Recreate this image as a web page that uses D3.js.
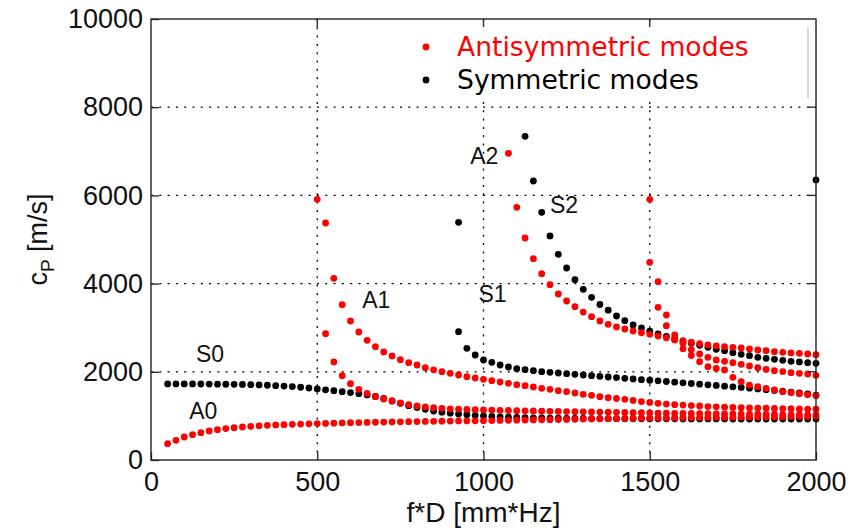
<!DOCTYPE html>
<html><head><meta charset="utf-8">
<script src="https://cdn.jsdelivr.net/npm/d3@7"></script>
<style>body{margin:0;background:#fff}svg{display:block}</style>
</head><body><svg id="chart" width="859" height="530"></svg>
<script>
// Axis ticks
const xTicks = [0, 500, 1000, 1500, 2000];
const yTicks = [0, 2000, 4000, 6000, 8000, 10000];

// Antisymmetric modes: [f*D (mm*Hz), phase velocity (m/s)]
const modeA0 = [[50,370],[75,447],[100,522],[125,574],[150,620],[175,658],[200,688],[225,712],[250,733],[275,748],[300,763],[325,776],[350,786],[375,794],[400,802],[425,809],[450,815],[475,820],[500,825],[525,830],[550,835],[575,840],[600,845],[625,849],[650,853],[675,856],[700,860],[725,863],[750,866],[775,869],[800,872],[825,875],[850,878],[875,880],[900,883],[925,885],[950,887],[975,889],[1000,891],[1025,894],[1050,897],[1075,900],[1100,903],[1125,906],[1150,909],[1175,912],[1200,915],[1225,918],[1250,921],[1275,924],[1300,927],[1325,930],[1350,933],[1375,936],[1400,939],[1425,942],[1450,945],[1475,948],[1500,951],[1525,953],[1550,955],[1575,957],[1600,959],[1625,961],[1650,963],[1675,965],[1700,967],[1725,969],[1750,971],[1775,973],[1800,975],[1825,977],[1850,979],[1875,981],[1900,983],[1925,985],[1950,987],[1975,989],[2000,991]];
const modeA1 = [[500,5912],[525,5374],[550,4120],[575,3522],[600,3152],[625,2902],[650,2714],[675,2570],[700,2449],[725,2358],[750,2274],[775,2206],[800,2154],[825,2093],[850,2045],[875,2002],[900,1966],[925,1927],[950,1889],[975,1859],[1000,1830],[1025,1798],[1050,1769],[1075,1739],[1100,1708],[1125,1685],[1150,1655],[1175,1625],[1200,1603],[1225,1572],[1250,1549],[1275,1519],[1300,1489],[1325,1466],[1350,1436],[1375,1413],[1400,1395],[1425,1375],[1450,1350],[1475,1325],[1500,1305],[1525,1285],[1550,1268],[1575,1255],[1600,1245],[1625,1235],[1650,1225],[1675,1212],[1700,1205],[1725,1198],[1750,1192],[1775,1187],[1800,1182],[1825,1178],[1850,1174],[1875,1170],[1900,1166],[1925,1162],[1950,1158],[1975,1155],[2000,1152]];
const modeA1b = [[525,2864],[550,2222],[575,1912],[600,1730],[625,1603],[650,1512],[675,1436],[700,1383],[725,1338],[750,1293],[775,1255],[800,1225],[825,1205],[850,1186],[875,1171],[900,1160],[925,1152],[950,1146],[975,1140],[1000,1135],[1025,1131],[1050,1127],[1075,1123],[1100,1119],[1125,1115],[1150,1111],[1175,1107],[1200,1104],[1225,1101],[1250,1098],[1275,1095],[1300,1092],[1325,1089],[1350,1086],[1375,1083],[1400,1080],[1425,1077],[1450,1074],[1475,1071],[1500,1068],[1525,1065],[1550,1062],[1575,1059],[1600,1056],[1625,1054],[1650,1052],[1675,1050],[1700,1048],[1725,1046],[1750,1044],[1775,1042],[1800,1040],[1825,1038],[1850,1036],[1875,1034],[1900,1032],[1925,1030],[1950,1028],[1975,1026],[2000,1024]];
const modeA2 = [[1075,6955],[1100,5730],[1125,5034],[1150,4565],[1175,4225],[1200,3975],[1225,3764],[1250,3605],[1275,3476],[1300,3355],[1325,3250],[1350,3152],[1375,3076],[1400,3016],[1425,2971],[1450,2925],[1475,2885],[1500,2850],[1525,2810],[1550,2772],[1575,2735],[1600,2700],[1625,2670],[1650,2640],[1675,2610],[1700,2585],[1725,2570],[1750,2555],[1775,2540],[1800,2517],[1825,2494],[1850,2479],[1875,2457],[1900,2442],[1925,2427],[1950,2419],[1975,2404],[2000,2389]];
const modeA3 = [[1500,5912],[1525,4043],[1550,3288],[1575,2835],[1600,2646],[1625,2500],[1650,2404],[1675,2328],[1700,2268],[1725,2238],[1750,2208],[1775,2170],[1800,2132],[1825,2094],[1850,2057],[1875,2026],[1900,2004],[1925,1981],[1950,1966],[1975,1950],[2000,1920]];
const modeA3b = [[1500,4483],[1525,3462],[1550,3045],[1575,2721],[1600,2520],[1625,2370],[1650,2230],[1675,2116],[1700,2075],[1725,2041],[1750,1875],[1775,1776],[1800,1700],[1825,1662],[1850,1625],[1875,1587],[1900,1549],[1925,1526],[1950,1503],[1975,1481],[2000,1458]];

// Symmetric modes
const modeS0 = [[50,1725],[75,1725],[100,1725],[125,1724],[150,1723],[175,1722],[200,1720],[225,1718],[250,1716],[275,1713],[300,1708],[325,1702],[350,1695],[375,1686],[400,1676],[425,1664],[450,1650],[475,1633],[500,1612],[525,1592],[550,1572],[575,1550],[600,1528],[625,1503],[650,1475],[675,1440],[700,1395],[725,1340],[750,1285],[775,1232],[800,1190],[825,1149],[850,1111],[875,1085],[900,1062],[925,1043],[950,1027],[975,1012],[1000,998],[1025,988],[1050,980],[1075,972],[1100,966],[1125,960],[1150,956],[1175,952],[1200,949],[1225,947],[1250,945],[1275,943],[1300,941],[1325,940],[1350,939],[1375,938],[1400,937],[1425,936],[1450,935],[1475,935],[1500,934],[1525,934],[1550,933],[1575,933],[1600,932],[1625,932],[1650,932],[1675,931],[1700,931],[1725,931],[1750,930],[1775,930],[1800,930],[1825,930],[1850,930],[1875,929],[1900,929],[1925,929],[1950,929],[1975,929],[2000,929]];
const modeS1 = [[925,2910],[950,2532],[975,2381],[1000,2268],[1025,2215],[1050,2154],[1075,2109],[1100,2071],[1125,2048],[1150,2025],[1175,2002],[1200,1988],[1225,1973],[1250,1957],[1275,1943],[1300,1927],[1325,1912],[1350,1897],[1375,1882],[1400,1868],[1425,1852],[1450,1838],[1475,1822],[1500,1808],[1525,1795],[1550,1780],[1575,1765],[1600,1750],[1625,1735],[1650,1720],[1675,1705],[1700,1690],[1725,1675],[1750,1660],[1775,1645],[1800,1628],[1825,1612],[1850,1595],[1875,1578],[1900,1560],[1925,1540],[1950,1520],[1975,1500],[2000,1470]];
const modeS2 = [[1125,7340],[1150,6327],[1175,5617],[1200,5080],[1225,4664],[1250,4354],[1275,4089],[1300,3870],[1325,3689],[1350,3526],[1375,3398],[1400,3265],[1425,3159],[1450,3061],[1475,2993],[1500,2920],[1525,2860],[1550,2805],[1575,2750],[1600,2700],[1625,2650],[1650,2600],[1675,2555],[1700,2510],[1725,2479],[1750,2434],[1775,2396],[1800,2366],[1825,2328],[1850,2306],[1875,2283],[1900,2260],[1925,2238],[1950,2223],[1975,2208],[2000,2193]];
const extraS = [[925,5390],[2000,6350]];

const antisymmetric = [modeA0, modeA1, modeA1b, modeA2, modeA3, modeA3b];
const symmetric = [modeS0, modeS1, modeS2, extraS];

// Mode names written next to their branches: [name, f*D, c]
const modeNames = [["S0",135,2230],["A0",115,930],["A1",635,3450],["S1",985,3590],["A2",960,6710],["S2",1200,5600]];

const W = 859, H = 530;
const x = d3.scaleLinear().domain([0, 2000]).range([151, 816]);
const y = d3.scaleLinear().domain([0, 10000]).range([460, 19]);
const svg = d3.select("#chart");
const FONT = "'Liberation Sans', Arial, sans-serif";

svg.append("rect").attr("width", W).attr("height", H).attr("fill", "#fff");

// dotted grid
const grid = svg.append("g").attr("stroke", "#000").attr("stroke-width", 1.3)
  .attr("stroke-dasharray", "2,6.3");
grid.selectAll("line.v").data(xTicks.slice(1, -1)).join("line")
  .attr("class", "v")
  .attr("x1", d => x(d)).attr("x2", d => x(d)).attr("y1", y(10000)).attr("y2", y(0));
grid.selectAll("line.h").data(yTicks.slice(1, -1)).join("line")
  .attr("class", "h")
  .attr("x1", x(0)).attr("x2", x(2000)).attr("y1", d => y(d)).attr("y2", d => y(d));

// points: symmetric first, antisymmetric drawn over them
const rad = 3.4;
symmetric.forEach(s => {
  svg.append("g").selectAll("circle").data(s).join("circle")
    .attr("cx", d => x(d[0])).attr("cy", d => y(d[1])).attr("r", rad).attr("fill", "#000");
});
antisymmetric.forEach(s => {
  svg.append("g").selectAll("circle").data(s).join("circle")
    .attr("cx", d => x(d[0])).attr("cy", d => y(d[1])).attr("r", rad).attr("fill", "#ff0000");
});

// legend
const lg = svg.append("g");
lg.append("rect").attr("x", 405).attr("y", 21).attr("width", 403).attr("height", 77)
  .attr("fill", "#fff").attr("stroke", "none");
lg.append("line").attr("x1", 808).attr("x2", 808).attr("y1", 27).attr("y2", 98)
  .attr("stroke", "#c8c8c8").attr("stroke-width", 1.5);
const legendItems = [["Antisymmetric modes", "#ff0000", 47], ["Symmetric modes", "#000", 80]];
legendItems.forEach(([label, col, cy]) => {
  lg.append("circle").attr("cx", 426).attr("cy", cy).attr("r", 3.4).attr("fill", col);
  lg.append("text").attr("x", 457).attr("y", cy + 9).attr("fill", col)
    .style("font-family", "'DejaVu Sans', Verdana, sans-serif").style("font-size", "26.6px")
    .text(label);
});

// axes (inward ticks, boxed)
const fmt = d3.format("d");
const xAxis = d3.axisBottom(x).tickValues(xTicks).tickFormat(fmt).tickSize(-8).tickSizeOuter(0).tickPadding(12);
const yAxis = d3.axisLeft(y).tickValues(yTicks).tickFormat(fmt).tickSize(-8).tickSizeOuter(0).tickPadding(8);
const gx = svg.append("g").attr("transform", `translate(0,${y(0)})`).call(xAxis);
const gy = svg.append("g").attr("transform", `translate(${x(0)},0)`).call(yAxis);
[gx, gy].forEach(g => {
  g.select(".domain").remove();
  g.selectAll(".tick line").attr("stroke", "#222").attr("stroke-width", 1.3);
  g.selectAll("text").style("font-family", FONT).style("font-size", "27px").attr("fill", "#111");
});
// ticks on top and right edges
svg.append("g").selectAll("line").data(xTicks.slice(1, -1)).join("line")
  .attr("x1", d => x(d)).attr("x2", d => x(d)).attr("y1", y(10000)).attr("y2", y(10000) + 8)
  .attr("stroke", "#222").attr("stroke-width", 1.3);
svg.append("g").selectAll("line").data(yTicks.slice(1, -1)).join("line")
  .attr("x1", x(2000)).attr("x2", x(2000) - 8).attr("y1", d => y(d)).attr("y2", d => y(d))
  .attr("stroke", "#222").attr("stroke-width", 1.3);
svg.append("rect").attr("x", x(0)).attr("y", y(10000)).attr("width", x(2000) - x(0))
  .attr("height", y(0) - y(10000)).attr("fill", "none").attr("stroke", "#222").attr("stroke-width", 1.4);

// mode names
svg.append("g").selectAll("text").data(modeNames).join("text")
  .attr("x", d => x(d[1])).attr("y", d => y(d[2]))
  .style("font-family", FONT).style("font-size", "23px").attr("fill", "#111")
  .text(d => d[0]);

// axis titles
svg.append("text").attr("x", (x(0) + x(2000)) / 2).attr("y", 522).attr("text-anchor", "middle")
  .style("font-family", FONT).style("font-size", "28px").attr("fill", "#111").text("f*D [mm*Hz]");
const yl = svg.append("text").attr("transform", `translate(47,${(y(0) + y(10000)) / 2}) rotate(-90)`)
  .attr("text-anchor", "middle").style("font-family", FONT).style("font-size", "27px").attr("fill", "#111");
yl.append("tspan").text("c");
yl.append("tspan").attr("dy", 7).style("font-size", "19px").text("P");
yl.append("tspan").attr("dy", -7).text(" [m/s]");
</script></body></html>
